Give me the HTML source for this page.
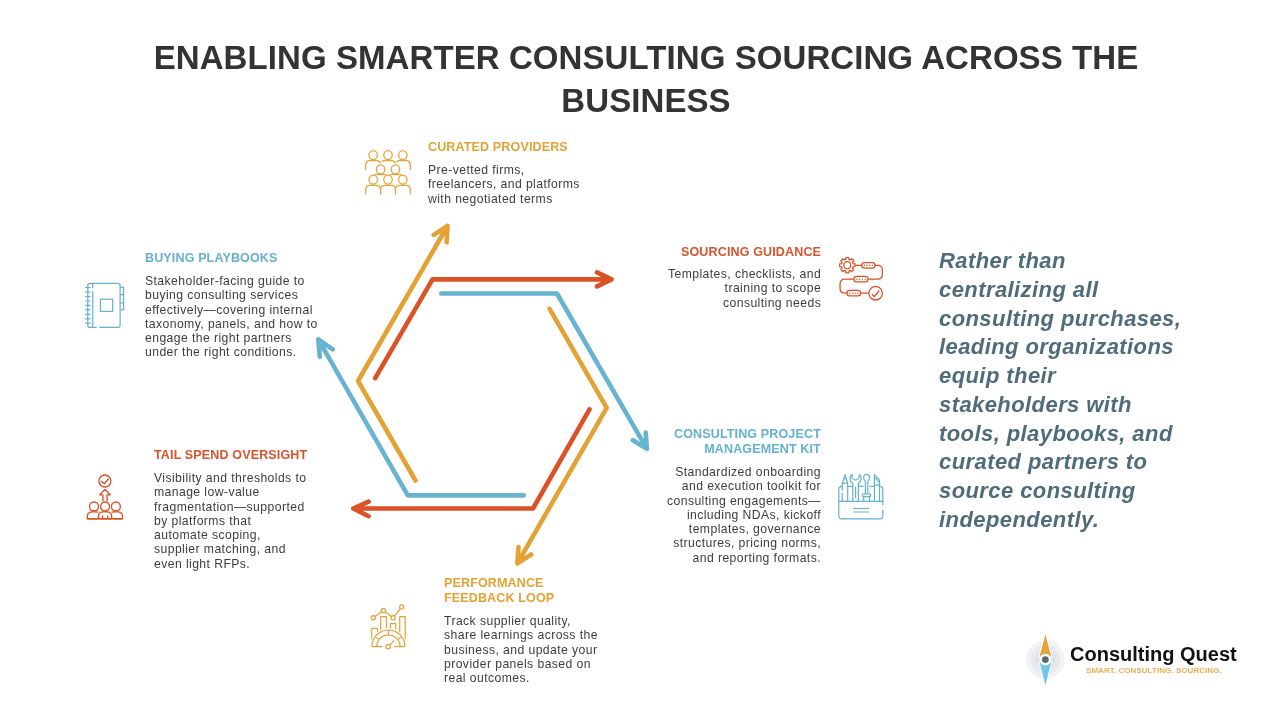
<!DOCTYPE html>
<html>
<head>
<meta charset="utf-8">
<style>
html,body{margin:0;padding:0;background:#fff;}
body{width:1280px;height:720px;position:relative;overflow:hidden;font-family:"Liberation Sans",sans-serif;-webkit-font-smoothing:antialiased;}
.abs{will-change:transform;}
.abs{position:absolute;white-space:nowrap;}
.title{left:0;width:1292px;top:37.0px;text-align:center;font-weight:bold;font-size:33px;line-height:42.7px;letter-spacing:0.08px;color:#333333;}
.h{font-weight:bold;font-size:12.5px;line-height:15px;letter-spacing:0.15px;}
.b{font-size:12.2px;line-height:14.3px;letter-spacing:0.42px;color:#3d3d3d;}
.r{text-align:right;}
.or{color:#E3A232;}
.rd{color:#D9532A;}
.bl{color:#63B1CF;}
.quote{left:939px;top:246.6px;font-weight:bold;font-style:italic;font-size:22px;line-height:28.75px;letter-spacing:0.42px;color:#4F6C7B;}
svg{position:absolute;left:0;top:0;}
</style>
</head>
<body>
<div class="abs title">ENABLING SMARTER CONSULTING SOURCING ACROSS THE<br>BUSINESS</div>

<!-- Curated providers -->
<div class="abs h or" style="left:428px;top:139.67px;">CURATED PROVIDERS</div>
<div class="abs b" style="left:428px;top:163.0px;">Pre-vetted firms,<br>freelancers, and platforms<br>with negotiated terms</div>

<!-- Buying playbooks -->
<div class="abs h bl" style="left:145px;top:250.97px;">BUYING PLAYBOOKS</div>
<div class="abs b" style="left:145px;top:273.92px;">Stakeholder-facing guide to<br>buying consulting services<br>effectively—covering internal<br>taxonomy, panels, and how to<br>engage the right partners<br>under the right conditions.</div>

<!-- Sourcing guidance -->
<div class="abs h rd r" style="right:459px;top:244.67px;">SOURCING GUIDANCE</div>
<div class="abs b r" style="right:458.6px;top:266.92px;">Templates, checklists, and<br>training to scope<br>consulting needs</div>

<!-- CPM kit -->
<div class="abs h bl r" style="right:459px;top:426.67px;">CONSULTING PROJECT<br>MANAGEMENT KIT</div>
<div class="abs b r" style="right:458.6px;top:464.52px;">Standardized onboarding<br>and execution toolkit for<br>consulting engagements—<br>including NDAs, kickoff<br>templates, governance<br>structures, pricing norms,<br>and reporting formats.</div>

<!-- Tail spend -->
<div class="abs h rd" style="left:153.5px;top:447.77px;">TAIL SPEND OVERSIGHT</div>
<div class="abs b" style="left:153.5px;top:470.52px;">Visibility and thresholds to<br>manage low-value<br>fragmentation—supported<br>by platforms that<br>automate scoping,<br>supplier matching, and<br>even light RFPs.</div>

<!-- Performance -->
<div class="abs h or" style="left:444px;top:575.57px;">PERFORMANCE<br>FEEDBACK LOOP</div>
<div class="abs b" style="left:444px;top:613.72px;">Track supplier quality,<br>share learnings across the<br>business, and update your<br>provider panels based on<br>real outcomes.</div>

<!-- Quote -->
<div class="abs quote">Rather than<br>centralizing all<br>consulting purchases,<br>leading organizations<br>equip their<br>stakeholders with<br>tools, playbooks, and<br>curated partners to<br>source consulting<br>independently.</div>

<!-- Logo text -->
<div class="abs" style="left:1069.5px;top:644.27px;font-weight:bold;font-size:20px;line-height:20px;color:#111;">Consulting Quest</div>
<div class="abs" style="left:1086px;top:667.1px;font-weight:bold;font-size:8px;line-height:8px;letter-spacing:0.06px;color:#E8AE55;">SMART. CONSULTING. SOURCING.</div>

<svg width="1280" height="720" viewBox="0 0 1280 720">
  <!-- ARROWS -->
  <g fill="none" stroke-width="4.6" stroke-linecap="round" stroke-linejoin="round">
    <!-- red 1 -->
    <path stroke="#DA5226" d="M375.2,378.2 L432.5,279.3 L611.5,279.4 M597,272.4 L611.5,279.4 L597,286.4"/>
    <!-- red 2 -->
    <path stroke="#DA5226" d="M589.5,409.3 L533,508.5 L353.3,508.5 M368.6,501.6 L353.3,508.5 L368.6,516.2"/>
    <!-- blue 1 -->
    <path stroke="#67B4D0" d="M441.2,293.5 L557,293.5 L646.9,448.8 M645.7,432.6 L646.9,448.8 L632.9,440.2"/>
    <!-- blue 2 -->
    <path stroke="#67B4D0" d="M523.7,495.4 L407.8,495.4 L318.3,339.4 M332.8,349.3 L318.3,339.4 L319.8,356.9"/>
    <!-- orange 1 -->
    <path stroke="#E4A234" d="M549.6,308.8 L606.7,407.8 L517.4,563.4 M518.5,547.1 L517.4,563.4 L531.2,554.5"/>
    <!-- orange 2 -->
    <path stroke="#E4A234" d="M415.5,480.5 L358,381 L447.5,226 M433.8,234.9 L447.5,226 L446.65,242.3"/>
  </g>
<g id="icon-people"><g stroke="#fff" stroke-width="3.4" fill="#fff"><ellipse cx="402.8" cy="155.1" rx="4.25" ry="4.5"/><path d="M395.30,170.0 V165.10 Q395.30,160.6 399.80,160.6 H405.80 Q410.30,160.6 410.30,165.10 V170.0"/></g>
<g stroke="#E4A234" stroke-width="1.25" fill="none"><ellipse cx="402.8" cy="155.1" rx="4.25" ry="4.5"/><path d="M395.30,170.0 V165.10 Q395.30,160.6 399.80,160.6 H405.80 Q410.30,160.6 410.30,165.10 V170.0"/></g>
<g stroke="#fff" stroke-width="3.4" fill="#fff"><ellipse cx="388" cy="155.1" rx="4.25" ry="4.5"/><path d="M380.50,170.0 V165.10 Q380.50,160.6 385.00,160.6 H391.00 Q395.50,160.6 395.50,165.10 V170.0"/></g>
<g stroke="#E4A234" stroke-width="1.25" fill="none"><ellipse cx="388" cy="155.1" rx="4.25" ry="4.5"/><path d="M380.50,170.0 V165.10 Q380.50,160.6 385.00,160.6 H391.00 Q395.50,160.6 395.50,165.10 V170.0"/></g>
<g stroke="#fff" stroke-width="3.4" fill="#fff"><ellipse cx="373.2" cy="155.1" rx="4.25" ry="4.5"/><path d="M365.70,170.0 V165.10 Q365.70,160.6 370.20,160.6 H376.20 Q380.70,160.6 380.70,165.10 V170.0"/></g>
<g stroke="#E4A234" stroke-width="1.25" fill="none"><ellipse cx="373.2" cy="155.1" rx="4.25" ry="4.5"/><path d="M365.70,170.0 V165.10 Q365.70,160.6 370.20,160.6 H376.20 Q380.70,160.6 380.70,165.10 V170.0"/></g>
<g stroke="#fff" stroke-width="3.0" fill="#fff"><ellipse cx="395.4" cy="169.3" rx="4.25" ry="4.5"/><path d="M387.90,184.0 V178.90 Q387.90,174.4 392.40,174.4 H398.40 Q402.90,174.4 402.90,178.90 V184.0"/></g>
<g stroke="#E4A234" stroke-width="1.25" fill="none"><ellipse cx="395.4" cy="169.3" rx="4.25" ry="4.5"/><path d="M387.90,184.0 V178.90 Q387.90,174.4 392.40,174.4 H398.40 Q402.90,174.4 402.90,178.90 V184.0"/></g>
<g stroke="#fff" stroke-width="3.0" fill="#fff"><ellipse cx="380.6" cy="169.3" rx="4.25" ry="4.5"/><path d="M373.10,184.0 V178.90 Q373.10,174.4 377.60,174.4 H383.60 Q388.10,174.4 388.10,178.90 V184.0"/></g>
<g stroke="#E4A234" stroke-width="1.25" fill="none"><ellipse cx="380.6" cy="169.3" rx="4.25" ry="4.5"/><path d="M373.10,184.0 V178.90 Q373.10,174.4 377.60,174.4 H383.60 Q388.10,174.4 388.10,178.90 V184.0"/></g>
<g stroke="#fff" stroke-width="1.6" fill="#fff"><ellipse cx="402.8" cy="179.6" rx="4.25" ry="4.5"/><path d="M395.30,194.4 V189.90 Q395.30,185.4 399.80,185.4 H405.80 Q410.30,185.4 410.30,189.90 V194.4"/></g>
<g stroke="#E4A234" stroke-width="1.25" fill="none"><ellipse cx="402.8" cy="179.6" rx="4.25" ry="4.5"/><path d="M395.30,194.4 V189.90 Q395.30,185.4 399.80,185.4 H405.80 Q410.30,185.4 410.30,189.90 V194.4"/></g>
<g stroke="#fff" stroke-width="1.6" fill="#fff"><ellipse cx="388" cy="179.6" rx="4.25" ry="4.5"/><path d="M380.50,194.4 V189.90 Q380.50,185.4 385.00,185.4 H391.00 Q395.50,185.4 395.50,189.90 V194.4"/></g>
<g stroke="#E4A234" stroke-width="1.25" fill="none"><ellipse cx="388" cy="179.6" rx="4.25" ry="4.5"/><path d="M380.50,194.4 V189.90 Q380.50,185.4 385.00,185.4 H391.00 Q395.50,185.4 395.50,189.90 V194.4"/></g>
<g stroke="#fff" stroke-width="1.6" fill="#fff"><ellipse cx="373.2" cy="179.6" rx="4.25" ry="4.5"/><path d="M365.70,194.4 V189.90 Q365.70,185.4 370.20,185.4 H376.20 Q380.70,185.4 380.70,189.90 V194.4"/></g>
<g stroke="#E4A234" stroke-width="1.25" fill="none"><ellipse cx="373.2" cy="179.6" rx="4.25" ry="4.5"/><path d="M365.70,194.4 V189.90 Q365.70,185.4 370.20,185.4 H376.20 Q380.70,185.4 380.70,189.90 V194.4"/></g></g>
<g id="icon-notebook" fill="none" stroke="#63B1CF" stroke-width="1.2">
<path d="M96.6,327.4 H90 Q87.8,327.4 87.8,325.2 V285.6 Q87.8,283.4 90,283.4 H117.9 Q120.1,283.4 120.1,285.6 V325.2 Q120.1,327.4 117.9,327.4 H99.2"/>
<path d="M92.8,284 V288.2 M92.8,291.2 V327"/>
<path d="M85.2,287.7 H90.6 M85.2,292.1 H90.6 M85.2,296.5 H90.6 M85.2,301.0 H90.6 M85.2,305.4 H90.6 M85.2,309.9 H90.6 M85.2,314.3 H90.6 M85.2,318.8 H90.6 M85.2,323.2 H90.6 "/>
<path d="M120.1,287.3 H123.6 V309.9 H120.1 M120.1,294.7 H123.6 M120.1,302.9 H123.6"/>
<rect x="100.4" y="299.2" width="12.3" height="12.2"/>
</g>
<g id="icon-guide" fill="none" stroke="#DA5226" stroke-width="1.3" stroke-linejoin="round">
<path d="M845.64,259.43 L845.90,257.53 L848.70,257.53 L848.96,259.43 L850.20,259.95 L851.74,258.79 L853.71,260.76 L852.55,262.30 L853.07,263.54 L854.97,263.80 L854.97,266.60 L853.07,266.86 L852.55,268.10 L853.71,269.64 L851.74,271.61 L850.20,270.45 L848.96,270.97 L848.70,272.87 L845.90,272.87 L845.64,270.97 L844.40,270.45 L842.86,271.61 L840.89,269.64 L842.05,268.10 L841.53,266.86 L839.63,266.60 L839.63,263.80 L841.53,263.54 L842.05,262.30 L840.89,260.76 L842.86,258.79 L844.40,259.95 Z"/>
<circle cx="847.3" cy="265.2" r="3.5"/>
<path d="M855.2,265.3 H861.85 M874.95,265.3 H877.4 Q882.4,265.3 882.4,270.3 V274.2 Q882.4,279.2 877.4,279.2 H867.95 M854.05,279.2 H845.05 Q840.05,279.2 840.05,284.2 V288.2 Q840.05,293.2 845.05,293.2 H847.05 M860.55,293.2 H868.85"/>
<rect x="861.85" y="262.55" width="13.10" height="5.5" rx="2.4"/><circle cx="864.47" cy="265.3" r="0.7" fill="#DA5226" stroke="none"/><circle cx="867.09" cy="265.3" r="0.7" fill="#DA5226" stroke="none"/><circle cx="869.71" cy="265.3" r="0.7" fill="#DA5226" stroke="none"/><circle cx="872.33" cy="265.3" r="0.7" fill="#DA5226" stroke="none"/>
<rect x="854.05" y="276.45" width="13.90" height="5.5" rx="2.4"/><circle cx="856.83" cy="279.2" r="0.7" fill="#DA5226" stroke="none"/><circle cx="859.61" cy="279.2" r="0.7" fill="#DA5226" stroke="none"/><circle cx="862.39" cy="279.2" r="0.7" fill="#DA5226" stroke="none"/><circle cx="865.17" cy="279.2" r="0.7" fill="#DA5226" stroke="none"/>
<rect x="847.05" y="290.45" width="13.50" height="5.5" rx="2.4"/><circle cx="849.75" cy="293.2" r="0.7" fill="#DA5226" stroke="none"/><circle cx="852.45" cy="293.2" r="0.7" fill="#DA5226" stroke="none"/><circle cx="855.15" cy="293.2" r="0.7" fill="#DA5226" stroke="none"/><circle cx="857.85" cy="293.2" r="0.7" fill="#DA5226" stroke="none"/>
<circle cx="875.6" cy="293.2" r="6.8"/>
<path d="M872.3,294.5 L874.5,296.6 L878.7,291" stroke-linecap="round"/>
</g>
<g id="icon-toolbox" fill="none" stroke="#63B1CF" stroke-width="1.2" stroke-linejoin="round">
<path d="M882.8,505 V489.5 Q882.8,486.4 879.7,486.4 H879.5 M874.4,486.4 H869.5 M863.7,486.4 H858.4 M852.8,486.4 H847.7 M842.3,486.4 H841.9 Q838.8,486.4 838.8,489.5 V515.7 Q838.8,518.8 841.9,518.8 H879.7 Q882.8,518.8 882.8,515.7 V509.8"/>
<path d="M838.8,501.4 H882.8"/>
<path d="M853,508.5 H869 M853,512 H869"/>
<!-- pencil -->
<path d="M842.3,501.4 V492.8 M842.3,490.4 V483.1 L845,474.6 L847.7,483.1 V501.4 M842.3,483.1 H847.7 M843.6,479 H846.4"/>
<!-- wrench -->
<path d="M852.8,501.4 V483.5 Q850,481.5 850,478 Q850,475.5 852,474.5 V477.5 Q853.5,480 855.6,480 Q857.7,480 859.2,477.5 V474.5 Q861.2,475.5 861.2,478 Q861.2,481.5 858.4,483.5 V501.4 M855.6,486.5 V498.2"/>
<!-- screwdriver -->
<path d="M865.4,493.8 V481.2 Q863.7,480.5 863.7,477.8 Q863.7,474.4 866.6,474.4 Q869.5,474.4 869.5,477.8 Q869.5,480.5 867.8,481.2 V493.8"/>
<rect x="862.3" y="493.8" width="8.5" height="2.9" rx="1.45"/>
<path d="M863.7,496.7 V501.4 M869.5,496.7 V501.4"/>
<!-- knife -->
<path d="M874.4,501.4 V474.6 L879.5,480.2 V501.4 M874.4,485.1 H879.5 M875,477.6 L879.2,482.3"/>
</g>
<g id="icon-tail" stroke-linejoin="round">
<g fill="#fff" stroke="#fff" stroke-width="3.0"><circle cx="94" cy="506.5" r="4.5"/><path d="M87.30,518.7 V516.90 Q87.30,511.9 92.30,511.9 H95.70 Q100.70,511.9 100.70,516.90 V518.7 Z"/><circle cx="115.9" cy="506.5" r="4.5"/><path d="M109.20,518.7 V516.90 Q109.20,511.9 114.20,511.9 H117.60 Q122.60,511.9 122.60,516.90 V518.7 Z"/></g>
<g fill="none" stroke="#DA5226" stroke-width="1.35"><circle cx="94" cy="506.5" r="4.5"/><path d="M87.30,518.7 V516.90 Q87.30,511.9 92.30,511.9 H95.70 Q100.70,511.9 100.70,516.90 V518.7 Z"/><circle cx="115.9" cy="506.5" r="4.5"/><path d="M109.20,518.7 V516.90 Q109.20,511.9 114.20,511.9 H117.60 Q122.60,511.9 122.60,516.90 V518.7 Z"/></g>
<g fill="#fff" stroke="#fff" stroke-width="3.0"><circle cx="105" cy="506.5" r="4.5"/><path d="M98.30,518.7 V516.90 Q98.30,511.9 103.30,511.9 H106.70 Q111.70,511.9 111.70,516.90 V518.7 Z"/></g>
<g fill="none" stroke="#DA5226" stroke-width="1.35"><circle cx="105" cy="506.5" r="4.5"/><path d="M98.30,518.7 V516.90 Q98.30,511.9 103.30,511.9 H106.70 Q111.70,511.9 111.70,516.90 V518.7 Z"/><path d="M102.4,515.6 V518.7 M107.6,515.6 V518.7 M87.3,518.7 H122.6"/>
<circle cx="104.9" cy="481" r="6.0"/>
<path d="M101.6,481.3 L104.3,483.8 L108.3,479" stroke-linecap="round"/>
<path d="M102.9,501.6 V494.8 H99.8 L105,489.4 L110.2,494.8 H107.1 V501.6"/>
</g>
</g>
<g id="icon-perf" stroke-linejoin="round">
<g fill="none" stroke="#E4A234" stroke-width="1.2">
<path d="M371.7,640 V628.3 H377.6 V640 M380.7,640 V616.7 H386.5 V640 M390.4,640 V623.7 H395.8 V640 M399.7,640 V616.7 H405.2 V640"/>
</g>
<path d="M371.80,646.6 A16.6,16.6 0 0 1 405.00,646.6 Z" fill="#fff" stroke="#fff" stroke-width="3.4"/>
<g fill="none" stroke="#E4A234" stroke-width="1.2">
<path d="M371.80,646.6 A16.6,16.6 0 0 1 405.00,646.6 M371.80,646.6 H382.6 M394.3,646.6 H405.00 M376.70,646.6 A11.7,11.7 0 0 1 400.10,646.6 M388.40,634.90 L388.40,630.00 M379.06,639.56 L375.14,636.61 M397.74,639.56 L401.66,636.61 "/>
<path d="M390,644.9 L394.3,640.4"/>
<circle cx="388.2" cy="646.6" r="2.3" fill="#fff"/>
</g>
<g fill="#fff" stroke="#fff" stroke-width="3">
<circle cx="373.3" cy="617.8" r="2.1"/><circle cx="393.1" cy="617.8" r="2.1"/>
</g>
<g fill="none" stroke="#E4A234" stroke-width="1.2">
<path d="M375.1,616.5 L381.6,611.7 M385.1,611.7 L391.4,616.5 M394.4,616.1 L400.4,608.6"/>
<circle cx="373.3" cy="617.8" r="2.1"/><circle cx="383.4" cy="610.4" r="2.1"/><circle cx="393.1" cy="617.8" r="2.1"/><circle cx="401.7" cy="606.9" r="2.1"/>
</g>
</g>
<g id="logo">
<circle cx="1045.4" cy="659.6" r="19.3" fill="#F1F2F4"/>
<circle cx="1045.4" cy="659.6" r="14.8" fill="#E7EAED"/>
<circle cx="1045.4" cy="659.6" r="10.2" fill="#DEE2E6"/>
<path d="M1045.4,634.4 L1051.2,656.5 L1039.6,656.5 Z" fill="#E8A23A" stroke="#fff" stroke-width="2" stroke-linejoin="miter" paint-order="stroke"/>
<path d="M1045.4,685.2 L1051.2,662.6 L1039.6,662.6 Z" fill="#72C6EE" stroke="#fff" stroke-width="2" stroke-linejoin="miter" paint-order="stroke"/>
<circle cx="1045.4" cy="659.6" r="5.8" fill="#fff"/>
<circle cx="1045.4" cy="659.6" r="3.4" fill="#546E7A"/>
</g>
</svg>
</body>
</html>
